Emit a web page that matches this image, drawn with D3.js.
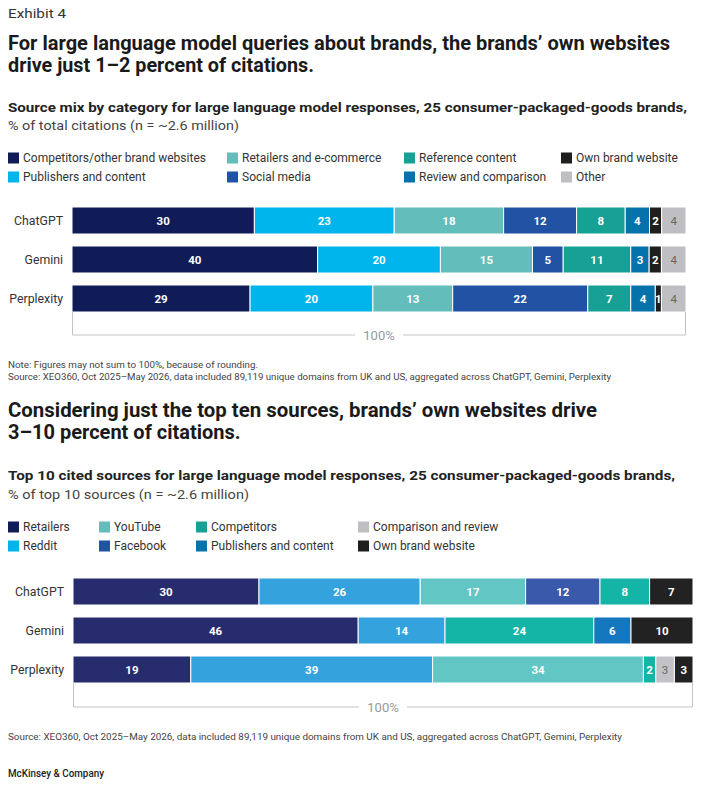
<!DOCTYPE html>
<html>
<head>
<meta charset="utf-8">
<script src="https://cdn.jsdelivr.net/npm/d3@7"></script>
<style>
  html, body { margin: 0; padding: 0; background: #fff; }
  svg { display: block; font-family: Roboto, "Liberation Sans", sans-serif; }
</style>
</head>
<body>
<svg id="chart" width="706" height="809"></svg>
<script>
// ---------------- DATA ----------------
const categories = ["ChatGPT", "Gemini", "Perplexity"];

// Chart 1: source mix by category (% of total citations)
const mixKeys = ["Competitors/other brand websites", "Publishers and content", "Retailers and e-commerce",
  "Social media", "Reference content", "Review and comparison", "Own brand website", "Other"];
const mixCompetitors = [30, 40, 29];
const mixPublishers  = [23, 20, 20];
const mixRetailers   = [18, 15, 13];
const mixSocial      = [12, 5, 22];
const mixReference   = [8, 11, 7];
const mixReview      = [4, 3, 4];
const mixOwn         = [2, 2, 1];
const mixOther       = [4, 4, 4];
const mixValues = [mixCompetitors, mixPublishers, mixRetailers, mixSocial, mixReference, mixReview, mixOwn, mixOther];
const mixColors = ["#101c58", "#00b4ec", "#62bdbb", "#2152a3", "#17a094", "#0672ab", "#1e1e1e", "#bfbfc3"];
const mixLegendColors = mixColors;

// Chart 2: top 10 cited sources (% of top 10 sources)
const topKeys = ["Retailers", "Reddit", "YouTube", "Facebook", "Competitors", "Publishers and content",
  "Comparison and review", "Own brand website"];
const topRetailers   = [30, 46, 19];
const topReddit      = [26, 14, 39];
const topYouTube     = [17, 0, 34];
const topFacebook    = [12, 0, 0];
const topCompetitors = [8, 24, 2];
const topPublishers  = [0, 6, 0];
const topComparison  = [0, 0, 3];
const topOwn         = [7, 10, 3];
const topValues = [topRetailers, topReddit, topYouTube, topFacebook, topCompetitors, topPublishers, topComparison, topOwn];
const topColors = ["#272c6e", "#34a2dc", "#62c6c4", "#3a59ab", "#14b5a6", "#1477bf", "#c3c3c7", "#222222"];
const topLegendColors = ["#101c58", "#00b4ec", "#62bdbb", "#2152a3", "#17a094", "#0672ab", "#bfbfc3", "#1e1e1e"];

const totalLabel = "100%";

// ---------------- HELPERS ----------------
const svg = d3.select("#chart");

function addText(x, y, str, opts) {
  const t = svg.append("text")
    .attr("x", x).attr("y", y)
    .attr("font-size", opts.size)
    .attr("font-weight", opts.weight || 400)
    .attr("fill", opts.color || "#222")
    .text(str);
  if (opts.width) {
    const w = t.node().getComputedTextLength();
    if (Math.abs(w - opts.width) > 1) {
      t.attr("textLength", opts.width).attr("lengthAdjust", "spacingAndGlyphs");
    }
  }
  return t;
}

function buildRows(keys, values) {
  return categories.map((c, i) => {
    const row = { category: c };
    keys.forEach((k, j) => { row[k] = values[j][i]; });
    return row;
  });
}

function drawLegend(keys, colors, cols, rowY) {
  keys.forEach((k, i) => {
    const col = Math.floor(i / 2), r = i % 2;
    const x = cols[col], y = rowY[r];
    svg.append("rect").attr("x", x).attr("y", y - 5.5).attr("width", 11).attr("height", 11).attr("fill", colors[i]);
    svg.append("text").attr("x", x + 15).attr("y", y + 4.3)
      .attr("font-size", 12).attr("fill", "#333").text(k);
  });
}

function drawBars(keys, values, colors, x0, x1, y0, y1, bracketY, lightKeys) {
  const rows = buildRows(keys, values);
  const series = d3.stack().keys(keys).offset(d3.stackOffsetExpand)(rows);
  const x = d3.scaleLinear().domain([0, 1]).range([x0, x1]);
  const y = d3.scaleBand().domain(categories).range([y0, y1]).paddingInner(12 / 39).paddingOuter(0);
  const color = d3.scaleOrdinal().domain(keys).range(colors);

  const g = svg.append("g");
  const sg = g.selectAll("g.series").data(series).join("g").attr("class", "series")
    .attr("fill", d => color(d.key));
  sg.selectAll("rect").data(d => d.map(p => ({ p, key: d.key })).filter(e => e.p.data[e.key] > 0))
    .join("rect")
    .attr("x", e => x(e.p[0]))
    .attr("y", e => y(e.p.data.category))
    .attr("width", e => x(e.p[1]) - x(e.p[0]))
    .attr("height", y.bandwidth())
    .attr("stroke", "#fff").attr("stroke-width", 1);

  sg.selectAll("text").data(d => d.map(p => ({ p, key: d.key })).filter(e => e.p.data[e.key] > 0))
    .join("text")
    .attr("x", e => (x(e.p[0]) + x(e.p[1])) / 2)
    .attr("y", e => y(e.p.data.category) + y.bandwidth() / 2 + 4.2)
    .attr("text-anchor", "middle")
    .attr("font-size", 11.5)
    .attr("font-weight", e => lightKeys.includes(e.key) ? 400 : 700)
    .attr("fill", e => lightKeys.includes(e.key) ? "#666" : "#fff")
    .text(e => e.p.data[e.key]);

  // category labels
  g.selectAll("text.cat").data(categories).join("text").attr("class", "cat")
    .attr("x", x0 - 9).attr("y", d => y(d) + y.bandwidth() / 2 + 4.3)
    .attr("text-anchor", "end").attr("font-size", 12.3).attr("fill", "#333").text(d => d);

  // 100% bracket
  const bottom = y(categories[categories.length - 1]) + y.bandwidth();
  const mid = (x0 + x1) / 2;
  const gap = 24;
  const lc = "#c4c4c4";
  g.append("path")
    .attr("d", `M${x0 + 0.5},${bottom} V${bracketY} H${mid - gap}`)
    .attr("fill", "none").attr("stroke", lc).attr("stroke-width", 1);
  g.append("path")
    .attr("d", `M${mid + gap},${bracketY} H${x1 - 0.5} V${bottom}`)
    .attr("fill", "none").attr("stroke", lc).attr("stroke-width", 1);
  g.append("text").attr("x", mid).attr("y", bracketY + 4.5).attr("text-anchor", "middle")
    .attr("font-size", 13).attr("fill", "#999").text(totalLabel);
}

// ---------------- HEADER ----------------
addText(8, 18, "Exhibit 4", { size: 13.5, color: "#333", width: 58 });
addText(8, 50, "For large language model queries about brands, the brands\u2019 own websites", { size: 20, weight: 700, color: "#1a1a1a", width: 662 });
addText(8, 72, "drive just 1\u20132 percent of citations.", { size: 20, weight: 700, color: "#1a1a1a", width: 306 });
addText(8, 112, "Source mix by category for large language model responses, 25 consumer-packaged-goods brands,", { size: 13.5, weight: 700, color: "#222", width: 679 });
addText(8, 130, "% of total citations (n = ~2.6 million)", { size: 13.5, color: "#444", width: 231 });

// ---------------- CHART 1 ----------------
drawLegend(mixKeys, mixLegendColors, [8, 227, 404, 561], [158, 177]);
drawBars(mixKeys, mixValues, mixColors, 72, 686, 207, 312, 335, ["Other"]);

addText(8, 368, "Note: Figures may not sum to 100%, because of rounding.", { size: 9.5, color: "#444", width: 250 });
addText(8, 380, "Source: XEO360, Oct 2025\u2013May 2026, data included 89,119 unique domains from UK and US, aggregated across ChatGPT, Gemini, Perplexity", { size: 9.5, color: "#444", width: 603 });

// ---------------- CHART 2 HEADER ----------------
addText(8, 417, "Considering just the top ten sources, brands\u2019 own websites drive", { size: 20, weight: 700, color: "#1a1a1a", width: 589 });
addText(8, 439, "3\u201310 percent of citations.", { size: 20, weight: 700, color: "#1a1a1a", width: 233 });
addText(8, 480, "Top 10 cited sources for large language model responses, 25 consumer-packaged-goods brands,", { size: 13.5, weight: 700, color: "#222", width: 667 });
addText(8, 499, "% of top 10 sources (n = ~2.6 million)", { size: 13.5, color: "#444", width: 241 });

// ---------------- CHART 2 ----------------
drawLegend(topKeys, topLegendColors, [8, 99, 196, 358], [527, 546]);
drawBars(topKeys, topValues, topColors, 73, 693, 578, 683, 707, ["Comparison and review"]);

addText(8, 740, "Source: XEO360, Oct 2025\u2013May 2026, data included 89,119 unique domains from UK and US, aggregated across ChatGPT, Gemini, Perplexity", { size: 9.5, color: "#444", width: 614 });
addText(8, 777, "McKinsey & Company", { size: 10.5, weight: 500, color: "#222", width: 96 });
</script>
</body>
</html>
